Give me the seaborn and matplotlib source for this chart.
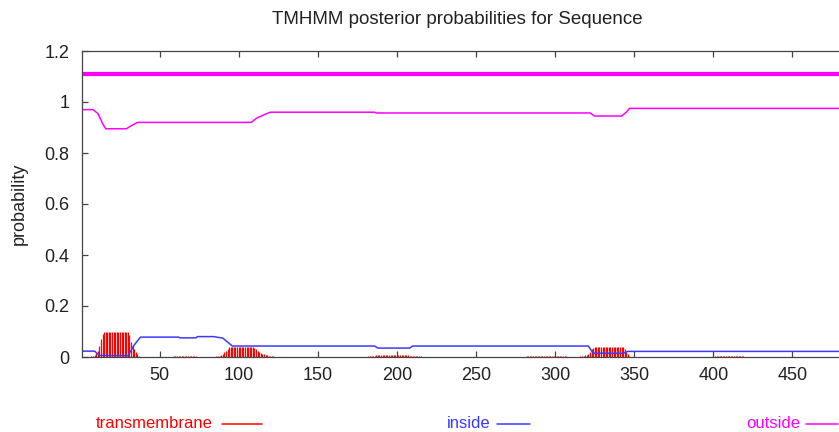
import matplotlib
matplotlib.use("Agg")
import matplotlib.pyplot as plt
from matplotlib.lines import Line2D
import seaborn as sns

# --- data ---
# outside / inside curves as (position, probability) breakpoints
outside_x = [1, 8, 11, 13, 14, 16, 29, 33, 36, 108, 111, 115, 120, 186, 187, 322, 325, 342, 345, 347, 480]
outside_y = [0.97, 0.97, 0.955, 0.93, 0.915, 0.895, 0.895, 0.91, 0.92, 0.92, 0.935, 0.947, 0.96, 0.96, 0.957,
             0.957, 0.945, 0.945, 0.96, 0.975, 0.975]

inside_x = [1, 9, 12, 30, 34, 38, 62, 63, 73, 74, 84, 90, 96, 186, 188, 208, 210, 321, 324, 343, 346, 480]
inside_y = [0.023, 0.023, 0.006, 0.005, 0.047, 0.078, 0.078, 0.075, 0.075, 0.08, 0.08, 0.074, 0.043, 0.043,
            0.035, 0.035, 0.043, 0.043, 0.015, 0.015, 0.022, 0.022]

# transmembrane impulses: first residue + per-residue values
tm1_start = 7
tm1 = [0.003, 0.005, 0.008, 0.015, 0.025, 0.045, 0.07, 0.09,
       0.098, 0.098, 0.098, 0.098, 0.098, 0.098, 0.098, 0.098,
       0.098, 0.098, 0.098, 0.098, 0.098, 0.098, 0.098, 0.098,
       0.085, 0.06, 0.045, 0.03, 0.02, 0.01, 0.004]
tm2_start = 59
tm2 = [0.003, 0.004, 0.004, 0.004, 0.004, 0.004, 0.004, 0.004, 0.004, 0.004, 0.004, 0.004, 0.004, 0.004, 0.003]
tm3_start = 86
tm3 = [0.002, 0.003, 0.004, 0.006, 0.01, 0.018, 0.025, 0.033, 0.038,
       0.04, 0.04, 0.04, 0.04, 0.04, 0.04, 0.04, 0.04, 0.04, 0.04, 0.04, 0.04, 0.04, 0.04, 0.04,
       0.035, 0.03, 0.025, 0.02, 0.016, 0.013, 0.01, 0.008, 0.006, 0.005, 0.004, 0.003, 0.002]
tm4_start = 182
tm4 = [0.003, 0.004, 0.004, 0.005, 0.005, 0.006, 0.006, 0.007, 0.007, 0.008, 0.008, 0.009,
       0.009, 0.009, 0.009, 0.009, 0.009, 0.008, 0.008, 0.008, 0.007, 0.007, 0.007, 0.006,
       0.006, 0.006, 0.005, 0.005, 0.005, 0.004, 0.004, 0.004, 0.003, 0.003]
tm5_start = 282
tm5 = [0.003, 0.004, 0.004, 0.004, 0.004, 0.004, 0.004, 0.004, 0.004, 0.004, 0.004, 0.004, 0.004,
       0.004, 0.004, 0.004, 0.004, 0.004, 0.004, 0.004, 0.004, 0.004, 0.004, 0.004, 0.004, 0.003]
tm6_start = 316
tm6 = [0.003, 0.004, 0.005, 0.006, 0.008, 0.012, 0.02, 0.03, 0.036,
       0.039, 0.039, 0.039, 0.039, 0.039, 0.039, 0.039, 0.039, 0.039, 0.039,
       0.039, 0.039, 0.039, 0.039, 0.039, 0.039, 0.039, 0.039, 0.039,
       0.03, 0.02, 0.01, 0.004]
tm7_start = 400
tm7 = [0.003, 0.004, 0.004, 0.004, 0.004, 0.004, 0.004, 0.004, 0.004, 0.004,
       0.004, 0.004, 0.004, 0.004, 0.004, 0.004, 0.004, 0.004, 0.004, 0.003]

topology_level = 1.11  # thick line = predicted topology (outside)

xticks = [50, 100, 150, 200, 250, 300, 350, 400, 450]
yticks = [0, 0.2, 0.4, 0.6, 0.8, 1.0, 1.2]
ytick_labels = ["0", "0.2", "0.4", "0.6", "0.8", "1", "1.2"]

RED = "#ff0000"
BLUE = "#3a3aff"
MAGENTA = "#ff00ff"

sns.set_style("white")
plt.rcParams["font.family"] = ["Liberation Sans", "DejaVu Sans"]

fig = plt.figure(figsize=(8.39, 4.32), dpi=100)
ax = fig.add_axes([82 / 839, 75 / 432, 1.003 - 82 / 839, 306 / 432])

# impulses for transmembrane
for start, vals in [(tm1_start, tm1), (tm2_start, tm2), (tm3_start, tm3), (tm4_start, tm4),
                    (tm5_start, tm5), (tm6_start, tm6), (tm7_start, tm7)]:
    xs = list(range(start, start + len(vals)))
    ax.vlines(xs, 0, vals, color=RED, linewidth=0.9)

sns.lineplot(x=inside_x, y=inside_y, ax=ax, color=BLUE, linewidth=1.1)
sns.lineplot(x=outside_x, y=outside_y, ax=ax, color=MAGENTA, linewidth=1.1)
ax.axhline(topology_level, color=MAGENTA, linewidth=3.0)

ax.set_xlim(1, 481)
ax.set_ylim(0, 1.2)
ax.set_xticks(xticks)
ax.set_yticks(yticks)
ax.set_yticklabels(ytick_labels)

for side in ["left", "bottom", "top"]:
    ax.spines[side].set_color("#444444")
    ax.spines[side].set_linewidth(0.9)
ax.spines["right"].set_visible(False)
ax.tick_params(axis="both", direction="in", length=4, width=0.9, color="#444444",
               labelsize=13, labelcolor="#222222", top=True, bottom=True, left=True)
ax.tick_params(axis="x", pad=7)
ax.tick_params(axis="y", pad=9)

fig.text(457 / 839, 1 - 20 / 432, "TMHMM posterior probabilities for Sequence",
         ha="center", va="center", fontsize=13.5, color="#222222")
fig.text(19 / 839, 1 - 204 / 432, "probability", rotation=90, ha="center", va="center",
         fontsize=13, color="#222222")

# legend along the bottom, gnuplot style
legend_y = 1 - 424 / 432
for label, color, tx, lx0, lx1 in [("transmembrane", RED, 213, 222, 262),
                                   ("inside", BLUE, 490, 497, 530),
                                   ("outside", MAGENTA, 800, 806, 838)]:
    fig.text(tx / 839, legend_y, label, ha="right", va="center", fontsize=12, color=color)
    fig.add_artist(Line2D([lx0 / 839, lx1 / 839], [legend_y, legend_y], color=color, linewidth=1.1))

fig.savefig("out.png", dpi=100)
